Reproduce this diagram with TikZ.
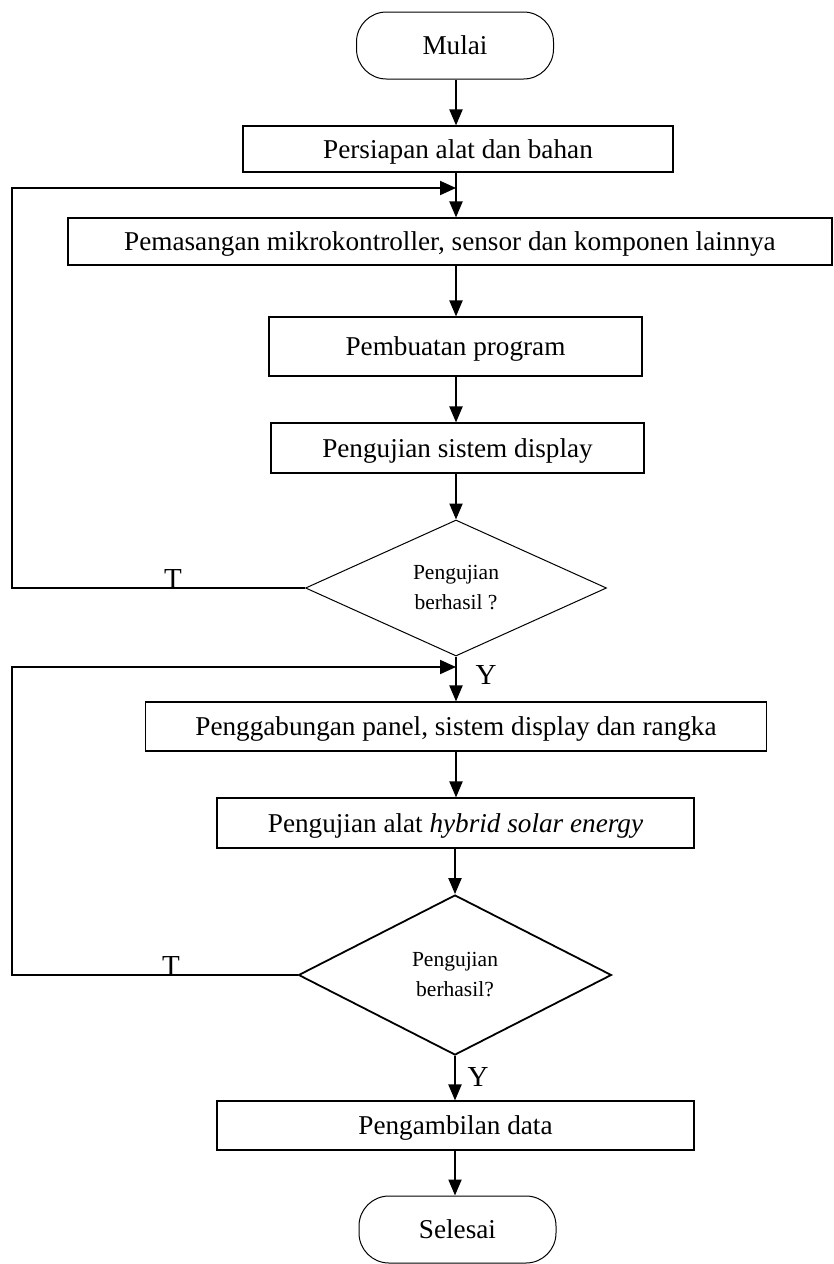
\documentclass[tikz,border=0pt]{standalone}
\usepackage{fontspec}
\setmainfont{Liberation Serif}
\usetikzlibrary{arrows.meta,shapes.geometric}
\tikzset{
  box/.style={draw, line width=0.55pt, rectangle, inner sep=0pt, text depth=0pt, font=\fontsize{13.6}{16}\selectfont},
  term/.style={draw, line width=0.5pt, rectangle, rounded corners=15pt, inner sep=0pt, text depth=0pt, minimum width=98.5pt, minimum height=33.5pt, font=\fontsize{13.6}{16}\selectfont},
  dec/.style={draw, diamond, inner sep=0pt, font=\fontsize{10.75}{15}\selectfont, align=center},
  arr/.style={line width=1pt, -{Triangle[length=8pt,width=6.5pt]}},
  fb/.style={line width=1pt, -{Triangle[length=8pt,width=7pt]}},
  lbl/.style={font=\fontsize{14.5}{16}\selectfont, inner sep=0pt}
}
\begin{document}
\begin{tikzpicture}[x=0.5pt,y=-0.5pt]
\useasboundingbox (0,0) rectangle (834,1264);
\node[term] (mulai) at (455,45.5) {Mulai};
\node[box, minimum width=215pt, minimum height=23pt] (pers) at (458,149) {Persiapan alat dan bahan};
\node[box, minimum width=382pt, minimum height=23.5pt] (pem) at (450,241.5) {Pemasangan mikrokontroller, sensor dan komponen lainnya};
\node[box, minimum width=186.5pt, minimum height=29.5pt] (buat) at (455.5,346.5) {Pembuatan program};
\node[box, minimum width=186.5pt, minimum height=25pt] (uji) at (457.5,448) {Pengujian sistem display};
\node[dec, line width=0.5pt, minimum width=150.5pt, minimum height=68pt] (d1) at (456,588) {Pengujian\\berhasil ?};
\node[box, minimum width=310.5pt, minimum height=24.5pt] (gab) at (456,726.5) {Penggabungan panel, sistem display dan rangka};
\node[box, minimum width=238.5pt, minimum height=25pt] (alat) at (455.5,823) {Pengujian alat \textit{hybrid solar energy}};
\node[dec, line width=0.9pt, minimum width=156.5pt, minimum height=80pt] (d2) at (455,975) {Pengujian\\berhasil?};
\node[box, minimum width=238.5pt, minimum height=24.5pt] (ambil) at (455.5,1125.5) {Pengambilan data};
\node[term] (selesai) at (457.5,1229.5) {Selesai};

\coordinate (j1) at (456,188);
\coordinate (l1) at (12,188);
\coordinate (j2) at (456,667);
\coordinate (l2) at (12,667);

\draw[arr] (mulai.south -| j1) -- (pers.north -| j1);
\draw[arr] (pers.south -| j1) -- (pem.north -| j1);
\draw[arr] (pem.south -| j1) -- (buat.north -| j1);
\draw[arr] (buat.south -| j1) -- (uji.north -| j1);
\draw[arr] (uji.south -| d1.north) -- (d1.north);
\draw[arr] (d1.south) -- (gab.north -| d1.south);
\draw[arr] (gab.south -| j1) -- (alat.north -| j1);
\draw[arr] (alat.south -| d2.north) -- (d2.north);
\draw[arr] (d2.south) -- (ambil.north -| d2.south);
\draw[arr] (ambil.south -| d2.south) -- (selesai.north -| d2.south);

\draw[fb] (d1.west) -| (l1) -- (j1);
\draw[fb] (d2.west) -| (l2) -- (j2);

\node[lbl, anchor=south] (t1) at (173,589) {T};
\node[lbl, anchor=south] (t2) at (171,976) {T};
\node[lbl] (y1) at (486,675) {Y};
\node[lbl] (y2) at (478,1077) {Y};
\end{tikzpicture}
\end{document}
